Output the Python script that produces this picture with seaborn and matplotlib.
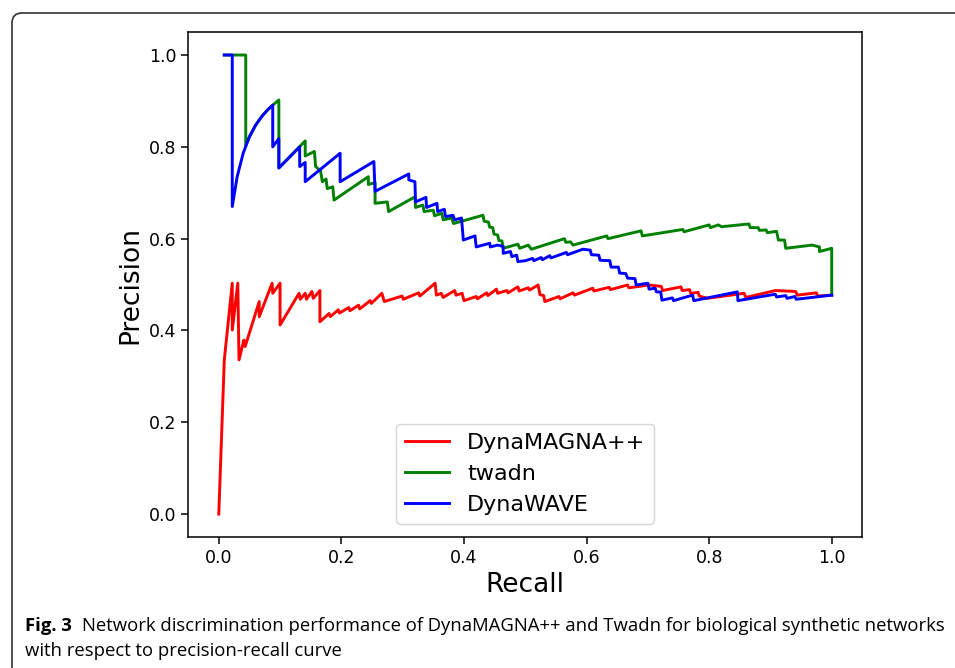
import pandas as pd
import matplotlib
matplotlib.use("Agg")
import matplotlib.pyplot as plt
from matplotlib.patches import FancyBboxPatch
from matplotlib.transforms import IdentityTransform
import seaborn as sns

# values (recall, precision)
magna_rec = [0.0, 0.009, 0.022, 0.022, 0.031, 0.033, 0.041, 0.043, 0.066, 0.066,
             0.087, 0.088, 0.100, 0.100, 0.131, 0.133, 0.141, 0.143, 0.152, 0.154,
             0.165, 0.165, 0.180, 0.182, 0.195, 0.197, 0.212, 0.214, 0.228, 0.230,
             0.247, 0.249, 0.266, 0.270, 0.299, 0.301, 0.326, 0.328, 0.353, 0.355,
             0.363, 0.366, 0.385, 0.387, 0.397, 0.400, 0.420, 0.422, 0.437, 0.439,
             0.453, 0.455, 0.470, 0.472, 0.488, 0.490, 0.505, 0.507, 0.521, 0.524,
             0.530, 0.532, 0.555, 0.557, 0.578, 0.580, 0.610, 0.612, 0.637, 0.639,
             0.667, 0.669, 0.702, 0.722, 0.724, 0.754, 0.756, 0.768, 0.770, 0.782,
             0.784, 0.797, 0.857, 0.860, 0.908, 0.941, 0.944, 0.975, 0.977, 1.0]
magna_prec = [0.0, 0.336, 0.503, 0.401, 0.503, 0.336, 0.379, 0.365, 0.463, 0.430,
              0.503, 0.481, 0.503, 0.412, 0.481, 0.468, 0.481, 0.468, 0.485, 0.470,
              0.487, 0.419, 0.437, 0.430, 0.445, 0.438, 0.450, 0.443, 0.455, 0.447,
              0.465, 0.459, 0.481, 0.463, 0.475, 0.468, 0.482, 0.475, 0.503, 0.477,
              0.481, 0.472, 0.487, 0.477, 0.481, 0.465, 0.474, 0.469, 0.482, 0.476,
              0.490, 0.481, 0.487, 0.482, 0.495, 0.486, 0.493, 0.488, 0.499, 0.478,
              0.476, 0.463, 0.474, 0.469, 0.482, 0.477, 0.492, 0.486, 0.494, 0.489,
              0.499, 0.493, 0.499, 0.496, 0.487, 0.495, 0.487, 0.489, 0.481, 0.483,
              0.475, 0.470, 0.481, 0.472, 0.487, 0.485, 0.477, 0.482, 0.475, 0.477]

twadn_rec = [0.009, 0.044, 0.044, 0.050, 0.060, 0.070, 0.080, 0.090, 0.098, 0.098,
             0.141, 0.141, 0.156, 0.158, 0.166, 0.169, 0.175, 0.177, 0.186, 0.188,
             0.244, 0.244, 0.255, 0.255, 0.275, 0.277, 0.320, 0.321, 0.333, 0.335,
             0.350, 0.352, 0.364, 0.366, 0.380, 0.383, 0.431, 0.433, 0.440, 0.442,
             0.447, 0.449, 0.455, 0.457, 0.462, 0.464, 0.488, 0.491, 0.505, 0.510,
             0.564, 0.566, 0.574, 0.578, 0.633, 0.635, 0.689, 0.691, 0.757, 0.759,
             0.800, 0.802, 0.815, 0.820, 0.865, 0.867, 0.880, 0.882, 0.893, 0.895,
             0.910, 0.913, 0.923, 0.925, 0.968, 0.980, 0.980, 1.0, 1.0]
twadn_prec = [1.0, 1.0, 0.803, 0.822, 0.847, 0.866, 0.881, 0.893, 0.902, 0.754,
              0.813, 0.780, 0.790, 0.757, 0.748, 0.724, 0.730, 0.709, 0.713, 0.684,
              0.735, 0.718, 0.722, 0.677, 0.680, 0.659, 0.691, 0.668, 0.673, 0.659,
              0.662, 0.650, 0.655, 0.641, 0.645, 0.633, 0.651, 0.638, 0.636, 0.625,
              0.624, 0.610, 0.608, 0.596, 0.595, 0.579, 0.588, 0.579, 0.586, 0.577,
              0.600, 0.592, 0.593, 0.586, 0.606, 0.600, 0.617, 0.606, 0.620, 0.615,
              0.630, 0.624, 0.630, 0.626, 0.632, 0.624, 0.624, 0.618, 0.619, 0.613,
              0.616, 0.597, 0.597, 0.579, 0.586, 0.582, 0.572, 0.579, 0.477]

wave_rec = [0.009, 0.022, 0.022, 0.030, 0.040, 0.050, 0.060, 0.070, 0.080, 0.088,
            0.088, 0.098, 0.098, 0.132, 0.132, 0.141, 0.141, 0.198, 0.198, 0.253,
            0.255, 0.310, 0.310, 0.320, 0.321, 0.338, 0.339, 0.356, 0.357, 0.368,
            0.370, 0.382, 0.385, 0.396, 0.399, 0.418, 0.420, 0.442, 0.443, 0.455,
            0.464, 0.464, 0.476, 0.478, 0.486, 0.488, 0.500, 0.512, 0.514, 0.526,
            0.528, 0.540, 0.542, 0.567, 0.569, 0.594, 0.606, 0.608,
            0.620, 0.622, 0.638, 0.640, 0.652, 0.654, 0.664, 0.667, 0.679, 0.681,
            0.700, 0.702, 0.712, 0.714, 0.721, 0.723, 0.740, 0.742, 0.773, 0.775,
            0.846, 0.847, 0.908, 0.910, 0.925, 0.927, 0.940, 0.942, 0.955, 1.0]
wave_prec = [1.0, 1.0, 0.670, 0.735, 0.787, 0.822, 0.847, 0.866, 0.881, 0.891,
             0.800, 0.818, 0.754, 0.800, 0.757, 0.766, 0.724, 0.786, 0.724, 0.768,
             0.703, 0.741, 0.728, 0.724, 0.680, 0.690, 0.668, 0.677, 0.659, 0.664,
             0.648, 0.651, 0.641, 0.645, 0.597, 0.606, 0.582, 0.590, 0.582, 0.586,
             0.583, 0.568, 0.572, 0.561, 0.564, 0.550, 0.552, 0.557, 0.552, 0.559,
             0.554, 0.563, 0.558, 0.570, 0.565, 0.577, 0.575, 0.565,
             0.564, 0.553, 0.552, 0.538, 0.538, 0.525, 0.524, 0.514, 0.513, 0.499,
             0.503, 0.490, 0.492, 0.484, 0.484, 0.466, 0.471, 0.465, 0.477, 0.465,
             0.484, 0.465, 0.479, 0.473, 0.476, 0.470, 0.474, 0.468, 0.470, 0.477]

methods = ["DynaMAGNA++", "twadn", "DynaWAVE"]
colors = ["#ff0000", "#008000", "#0000ff"]

df = pd.concat([
    pd.DataFrame({"recall": magna_rec, "precision": magna_prec, "method": methods[0]}),
    pd.DataFrame({"recall": twadn_rec, "precision": twadn_prec, "method": methods[1]}),
    pd.DataFrame({"recall": wave_rec, "precision": wave_prec, "method": methods[2]}),
], ignore_index=True)

fig = plt.figure(figsize=(9.55, 6.68), dpi=100)
ax = fig.add_axes([0.197, 0.196, 0.706, 0.756])

sns.lineplot(data=df, x="recall", y="precision", hue="method", hue_order=methods,
             palette=colors, sort=False, estimator=None, lw=2.1, ax=ax)

ax.set_xlim(-0.05, 1.05)
ax.set_ylim(-0.05, 1.05)
ax.set_xticks([0.0, 0.2, 0.4, 0.6, 0.8, 1.0])
ax.set_yticks([0.0, 0.2, 0.4, 0.6, 0.8, 1.0])
ax.tick_params(labelsize=12.5, length=5, width=1.1)
for s in ax.spines.values():
    s.set_linewidth(1.1)
ax.set_xlabel("Recall", fontsize=19)
ax.set_ylabel("Precision", fontsize=19)

sns.move_legend(ax, "lower center", title=None, fontsize=16, frameon=True,
                fancybox=True, edgecolor="0.8", borderaxespad=0.6)
for h in ax.get_legend().get_lines():
    h.set_linewidth(2.1)

# frame around the figure, like the journal panel
box = FancyBboxPatch((12, -30), 1000, 685, boxstyle="round,pad=0,rounding_size=10",
                     transform=IdentityTransform(), fill=False, edgecolor="#333333",
                     linewidth=1.2)
fig.add_artist(box)

# caption
cap_font = "Open Sans"
cap_size = 13.3
t1 = fig.text(25 / 955, 37 / 668, "Fig. 3", fontsize=cap_size, fontweight="bold",
              family=cap_font, va="baseline")
fig.canvas.draw()
w = t1.get_window_extent(fig.canvas.get_renderer()).width
fig.text((25 + w + 10) / 955, 37 / 668,
         "Network discrimination performance of DynaMAGNA++ and Twadn for biological synthetic networks",
         fontsize=cap_size, family=cap_font, va="baseline")
fig.text(25 / 955, 12 / 668, "with respect to precision-recall curve",
         fontsize=cap_size, family=cap_font, va="baseline")

fig.savefig("out.png", dpi=100)
